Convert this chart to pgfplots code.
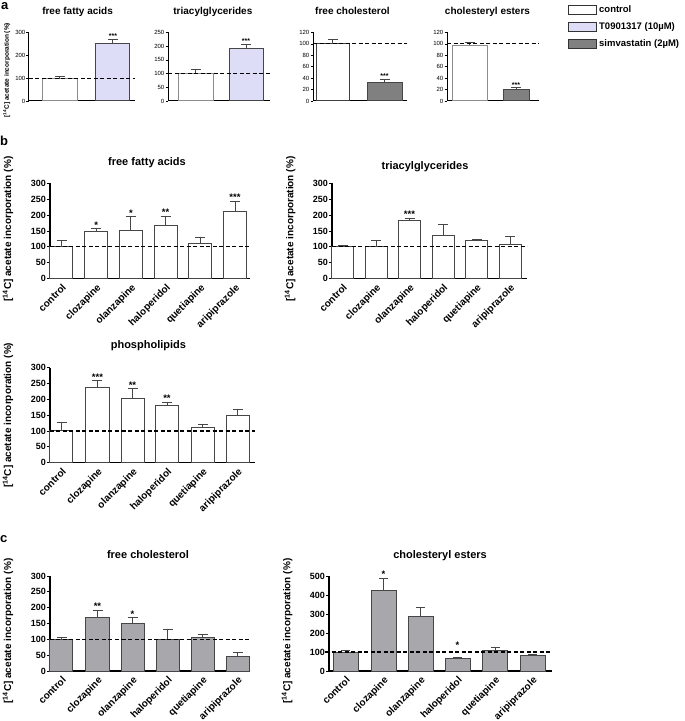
\documentclass[border=0pt]{standalone}
\usepackage{pgfplots}
\pgfplotsset{compat=1.18}
\usepackage{fontspec}
\setmainfont{Liberation Sans}
\definecolor{lav}{RGB}{221,221,248}
\definecolor{simg}{RGB}{128,128,128}
\definecolor{cg}{RGB}{168,168,172}
\definecolor{edge}{RGB}{70,70,70}
\newcommand{\fs}[1]{\fontsize{#1}{#1}\selectfont\bfseries}
\pgfplotsset{
  prism/.style={
    scale only axis, clip=false,
    axis x line*=bottom, axis y line*=left,
    axis line style={line width=1.4pt, black},
    xmin=0, ymin=0, enlargelimits=false,
    tick align=outside, major tick length=3pt,
    ytick style={line width=0.9pt, black},
    xtick style={draw=none},
    /pgf/number format/assume math mode=true,
    yticklabel style={font=\fs{9}, inner sep=1pt},
    xticklabel style={font=\fs{10}, rotate=45, anchor=north east, inner sep=1pt},
    title style={anchor=base, font=\fs{11}},
    ylabel style={anchor=center, font=\fs{10}},
    ylabel={[\textsuperscript{14}C] acetate incorporation (\%)},
    xticklabels={control,clozapine,olanzapine,haloperidol,quetiapine,aripiprazole},
    height=95pt,
  },
  prisma/.style={prism, height=68.5pt, axis line style={line width=1pt, black},
    ytick style={line width=0.7pt, black}, major tick length=2.5pt, xtick=\empty,
    yticklabel style={font=\fontsize{6}{6}\selectfont},
    title style={font=\fs{10}}},
  bars/.style={ybar, bar shift=0pt, draw=edge, line width=1pt,
    /pgfplots/error bars/y dir=plus, /pgfplots/error bars/y explicit,
    /pgfplots/error bars/error bar style={line width=1pt, edge},
    /pgfplots/error bars/error mark options={rotate=90, mark size=5pt, line width=1pt, edge}},
  base/.style={black, line width=1.1pt, dash pattern=on 4pt off 2.5pt},
  starsA/.style={draw=none, mark=none, nodes near coords, point meta=explicit symbolic,
    every node near coord/.style={anchor=south, inner sep=0.5pt, font=\fs{7}}},
  starsB/.style={draw=none, mark=none, nodes near coords, point meta=explicit symbolic,
    every node near coord/.style={anchor=south, inner sep=0.5pt, font=\fs{9.5}}},
}
\begin{document}
\begin{tikzpicture}
\path[use as bounding box] (0,0) rectangle (685pt,721pt);
\node[font=\fs{13}, anchor=north west, inner sep=0pt] at (1pt,718.5pt) {a};
\node[font=\fs{13}, anchor=north west, inner sep=0pt] at (0pt,585pt) {b};
\node[font=\fs{13}, anchor=north west, inner sep=0pt] at (0pt,186pt) {c};

% ---------- panel a ----------
\begin{axis}[prisma, at={(29pt,620pt)}, anchor=south west, width=106pt, xmax=106, ymax=300,
  ytick={0,100,200,300}, title={free fatty acids},
  title style={at={(axis description cs:0.458,1.168)}},
  ylabel style={at={(axis description cs:-0.21,0.45)}, font=\fs{6.5}}]
\addplot[bars, bar width=35pt, fill=white, draw=black!45] coordinates {(31,97) +- (0,9)};
\addplot[bars, bar width=34pt, fill=lav] coordinates {(84,253) +- (0,18)};
\addplot[base] coordinates {(0,100) (106,100)};
\addplot[starsA] coordinates {(84,271) [***]};
\end{axis}

\begin{axis}[prisma, at={(168pt,620pt)}, anchor=south west, width=102pt, xmax=102, ymax=250,
  ytick={0,50,...,250}, title={triacylglycerides}, ylabel={},
  title style={at={(axis description cs:0.44,1.168)}}]
\addplot[bars, bar width=35pt, fill=white, draw=black!45] coordinates {(27.5,100) +- (0,16)};
\addplot[bars, bar width=34pt, fill=lav] coordinates {(78,191) +- (0,15)};
\addplot[base] coordinates {(0,100) (102,100)};
\addplot[starsA] coordinates {(78,206) [***]};
\end{axis}

\begin{axis}[prisma, at={(313pt,620pt)}, anchor=south west, width=94pt, xmax=94, ymax=120,
  ytick={0,20,...,120}, title={free cholesterol}, ylabel={},
  title style={at={(axis description cs:0.42,1.168)}}]
\addplot[bars, bar width=33pt, fill=white, draw=black!75] coordinates {(19.5,100) +- (0,8)};
\addplot[bars, bar width=35pt, fill=simg] coordinates {(71.5,33) +- (0,5)};
\addplot[base] coordinates {(0,100) (94,100)};
\addplot[starsA] coordinates {(71.5,38) [***]};
\end{axis}

\begin{axis}[prisma, at={(447pt,620pt)}, anchor=south west, width=92pt, xmax=92, ymax=120,
  ytick={0,20,...,120}, title={cholesteryl esters}, ylabel={},
  title style={at={(axis description cs:0.44,1.168)}},
  legend style={at={(axis description cs:1.315,1.423)}, anchor=north west, draw=none, fill=none,
    inner sep=0pt, row sep=4.5pt, font=\fs{9.5}, cells={anchor=west},
    /tikz/every even column/.append style={column sep=0pt}},
  legend image code/.code={\draw[#1, line width=1pt] (0pt,-4.5pt) rectangle (28pt,4.5pt);}]
\addplot[bars, bar width=35pt, fill=white, draw=black!45, forget plot] coordinates {(22.5,98) +- (0,4)};
\addplot[bars, bar width=26pt, fill=simg, forget plot] coordinates {(69,20) +- (0,3)};
\addplot[base, forget plot] coordinates {(0,100) (92,100)};
\addplot[starsA, forget plot] coordinates {(69,23) [***]};
\addlegendimage{fill=white, draw=black!80}
\addlegendentry{control}
\addlegendimage{fill=lav, draw=black!80}
\addlegendentry{T0901317 (10µM)}
\addlegendimage{fill=simg, draw=black!80}
\addlegendentry{simvastatin (2µM)}
\end{axis}

% ---------- panel b ----------
\begin{axis}[prism, at={(50pt,442.5pt)}, anchor=south west, width=200pt, xmax=200, ymax=300,
  ytick={0,50,...,300}, xtick={11.5,46.2,80.9,115.6,150.3,185},
  title={free fatty acids}, title style={at={(axis description cs:0.485,1.13)}},
  ylabel style={at={(axis description cs:-0.21,0.52)}}]
\addplot[bars, bar width=23pt, fill=white] coordinates {(11.5,100) +- (0,20) (46.2,149) +- (0,8) (80.9,152) +- (0,43) (115.6,166) +- (0,31) (150.3,110) +- (0,19) (185,211) +- (0,32)};
\addplot[base] coordinates {(0,100) (200,100)};
\addplot[starsB] coordinates {(46.2,157) [*] (80.9,195) [*] (115.6,197) [**] (185,243) [***]};
\end{axis}

\begin{axis}[prism, at={(332pt,442.5pt)}, anchor=south west, width=195pt, xmax=195, ymax=300,
  ytick={0,50,...,300}, xtick={10.5,44,77.5,111,144.5,178},
  title={triacylglycerides}, title style={at={(axis description cs:0.477,1.079)}},
  ylabel style={at={(axis description cs:-0.215,0.52)}}]
\addplot[bars, bar width=22pt, fill=white] coordinates {(10.5,102) +- (0,3) (44,101) +- (0,20) (77.5,184) +- (0,7) (111,136) +- (0,35) (144.5,121) +- (0,2) (178,107) +- (0,25)};
\addplot[base] coordinates {(0,100) (195,100)};
\addplot[starsB] coordinates {(77.5,191) [***]};
\end{axis}

\begin{axis}[prism, at={(50pt,258.3pt)}, anchor=south west, width=205pt, xmax=205, ymax=300,
  ytick={0,50,...,300}, xtick={11.5,47.5,82.5,117,152.5,187.5},
  title={phospholipids}, title style={at={(axis description cs:0.48,1.144)}},
  ylabel style={at={(axis description cs:-0.205,0.5)}}]
\addplot[bars, bar width=23pt, fill=white] coordinates {(11.5,101) +- (0,27) (47.5,236) +- (0,22) (82.5,204) +- (0,29) (117,181) +- (0,10) (152.5,111) +- (0,9) (187.5,148) +- (0,19)};
\addplot[base] coordinates {(0,100) (205,100)};
\addplot[starsB] coordinates {(47.5,258) [***] (82.5,233) [**] (117,191) [**]};
\end{axis}

% ---------- panel c ----------
\begin{axis}[prism, at={(50pt,50pt)}, anchor=south west, width=200pt, xmax=200, ymax=300,
  ytick={0,50,...,300}, xtick={11.5,47.5,82.5,117.5,152.5,187.5},
  title={free cholesterol}, title style={at={(axis description cs:0.49,1.116)}},
  ylabel style={at={(axis description cs:-0.21,0.42)}}]
\addplot[bars, bar width=23pt, fill=cg] coordinates {(11.5,101) +- (0,5) (47.5,170) +- (0,22) (82.5,149) +- (0,19) (117.5,100) +- (0,30) (152.5,105) +- (0,10) (187.5,47) +- (0,10)};
\addplot[base] coordinates {(0,100) (200,100)};
\addplot[starsB] coordinates {(47.5,192) [**] (82.5,168) [*]};
\end{axis}

\begin{axis}[prism, at={(329pt,50pt)}, anchor=south west, width=223pt, xmax=223, ymax=500,
  ytick={0,100,...,500}, xtick={16.5,54.5,91.5,128.5,166,203.5},
  title={cholesteryl esters}, title style={at={(axis description cs:0.498,1.116)}},
  ylabel style={at={(axis description cs:-0.188,0.42)}}]
\addplot[bars, bar width=25pt, fill=cg, /pgfplots/error bars/error mark options={rotate=90, mark size=4.5pt, line width=1pt, edge}] coordinates {(16.5,100) +- (0,7) (54.5,425) +- (0,63) (91.5,285) +- (0,50) (128.5,68) +- (0,3) (166,106) +- (0,17) (203.5,84) +- (0,3)};
\addplot[base] coordinates {(-4,100) (223,100)};
\addplot[starsB] coordinates {(54.5,488) [*] (128.5,116) [*]};
\end{axis}
\end{tikzpicture}
\end{document}
